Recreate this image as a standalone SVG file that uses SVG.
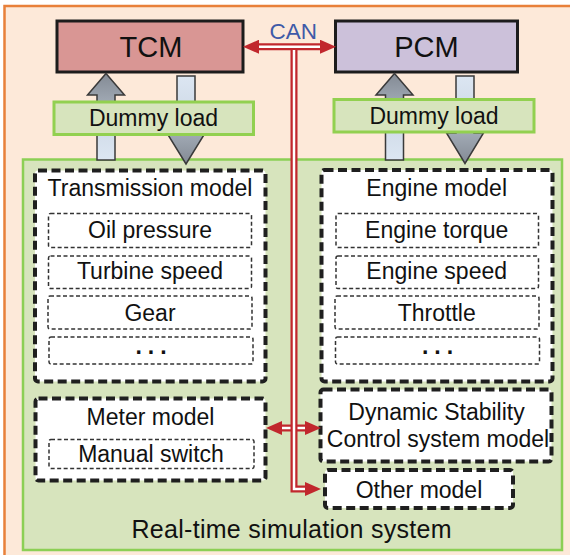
<svg xmlns="http://www.w3.org/2000/svg" width="570" height="555" viewBox="0 0 570 555">
<defs>
<style>
text{font-family:"Liberation Sans",Arial,sans-serif;font-size:23px;fill:#111;text-anchor:middle}
text.big{font-size:29px}
text.can{font-size:22.5px;fill:#3f5aa8}
text.sys{font-size:25px}
.ecu{stroke:#1c1c1c;stroke-width:3}
.dummy{fill:#d7e4bd;stroke:#92d050;stroke-width:3}
.model{fill:#fff;stroke:#1f1f1f;stroke-width:4;stroke-dasharray:9 4.5}
.sub{fill:#fff;stroke:#333;stroke-width:1.5;stroke-dasharray:4 2.5}
.bus{fill:none;stroke:#c1272d;stroke-width:7}
.busin{fill:none;stroke:#fff;stroke-width:2.5}
.arr{stroke:#3a3a3a;stroke-width:1.5}
text.dots{font-weight:bold;letter-spacing:6px}
</style>
<linearGradient id="gUp" x1="0" y1="1" x2="0" y2="0">
<stop offset="0" stop-color="#dce6f2"/>
<stop offset="0.4" stop-color="#d0dbe8"/>
<stop offset="0.6" stop-color="#a6afba"/>
<stop offset="1" stop-color="#838a94"/>
</linearGradient>
<linearGradient id="gDown" x1="0" y1="0" x2="0" y2="1">
<stop offset="0" stop-color="#dce6f2"/>
<stop offset="0.4" stop-color="#d0dbe8"/>
<stop offset="0.6" stop-color="#a6afba"/>
<stop offset="1" stop-color="#838a94"/>
</linearGradient>
<marker id="ah" markerUnits="userSpaceOnUse" markerWidth="16" markerHeight="14" refX="0" refY="7" orient="auto-start-reverse">
<path d="M0,0 L16,7 L0,14 z" fill="#c1272d"/>
</marker>
</defs>

<rect x="4.5" y="6" width="590" height="570" fill="#fde9d9" stroke="#e8803a" stroke-width="2.5"/>

<g id="system">
<rect x="23" y="159.5" width="539" height="390.5" fill="#d7e4bd" stroke="#8ccf55" stroke-width="2.5"/>
<text class="sys" x="291.5" y="538.3" textLength="320" lengthAdjust="spacing">Real-time simulation system</text>
</g>

<g id="tcm">
<rect class="ecu" x="57" y="21" width="186" height="51" fill="#d99694"/>
<text class="big" x="151" y="56.7">TCM</text>
</g>
<g id="pcm">
<rect class="ecu" x="335.5" y="21" width="182" height="51" fill="#ccc1da"/>
<text class="big" x="426.5" y="56.7">PCM</text>
</g>

<g id="io-arrows">
<path class="arr" fill="url(#gUp)" d="M106,73.5 L124.5,95 L115,95 L115,160 L97,160 L97,95 L87.5,95 Z"/>
<path class="arr" fill="url(#gDown)" d="M177,76 L195,76 L195,134 L204.5,134 L186,164 L167.5,134 L177,134 Z"/>
<path class="arr" fill="url(#gUp)" d="M394.5,73.5 L413,95 L403.5,95 L403.5,160 L385.5,160 L385.5,95 L376,95 Z"/>
<path class="arr" fill="url(#gDown)" d="M456,76 L474,76 L474,133 L483.5,133 L465,163.5 L446.5,133 L456,133 Z"/>
</g>

<g id="dummy-left">
<rect class="dummy" x="54" y="102" width="199.5" height="32.5"/>
<text x="153.5" y="126">Dummy load</text>
</g>
<g id="dummy-right">
<rect class="dummy" x="334" y="99.5" width="200" height="32.5"/>
<text x="434" y="123.5">Dummy load</text>
</g>

<g id="transmission-model">
<rect class="model" x="35" y="170.5" width="230.5" height="211" rx="3"/>
<text x="150" y="196">Transmission model</text>
<rect class="sub" x="48.5" y="213.5" width="203" height="34" rx="2"/>
<text x="150" y="238">Oil pressure</text>
<rect class="sub" x="48.5" y="256" width="203" height="32.5" rx="2"/>
<text x="150" y="279.3">Turbine speed</text>
<rect class="sub" x="48" y="296" width="204" height="33" rx="2"/>
<text x="150" y="320.7">Gear</text>
<rect class="sub" x="49" y="337" width="204" height="27" rx="2"/>
<text class="dots" x="154" y="354">...</text>
</g>

<g id="engine-model">
<rect class="model" x="321.5" y="170" width="231" height="211.5" rx="3"/>
<text x="436.7" y="196">Engine model</text>
<rect class="sub" x="336" y="213.5" width="202.5" height="34" rx="2"/>
<text x="436.7" y="238">Engine torque</text>
<rect class="sub" x="336" y="256" width="202.5" height="32.5" rx="2"/>
<text x="436.7" y="279.3">Engine speed</text>
<rect class="sub" x="335" y="296" width="204" height="33" rx="2"/>
<text x="436.7" y="320.7">Throttle</text>
<rect class="sub" x="335.5" y="337" width="204" height="27" rx="2"/>
<text class="dots" x="440.5" y="354">...</text>
</g>

<g id="meter-model">
<rect class="model" x="35.5" y="398.5" width="230" height="82" rx="3"/>
<text x="150.5" y="425">Meter model</text>
<rect class="sub" x="49" y="439.5" width="205" height="29" rx="2"/>
<text x="151" y="461.7">Manual switch</text>
</g>

<g id="dsc-model">
<rect class="model" x="320.5" y="389.5" width="231" height="72" rx="3"/>
<text x="436.5" y="420">Dynamic Stability</text>
<text x="438" y="446.7">Control system model</text>
</g>

<g id="other-model">
<rect class="model" x="325" y="470" width="188" height="38" rx="3"/>
<text x="419" y="498.3">Other model</text>
</g>

<g id="connectors">
<text class="can" x="293.3" y="39">CAN</text>
<path class="bus" d="M259,46.7 H320" marker-start="url(#ah)" marker-end="url(#ah)"/>
<path class="busin" d="M259,46.7 H320"/>
<path class="bus" d="M282,428 H305" marker-start="url(#ah)" marker-end="url(#ah)"/>
<path class="busin" d="M282,428 H305"/>
<path class="bus" d="M294,50 V489 H305" marker-end="url(#ah)" stroke-linejoin="miter"/>
<path class="busin" d="M294,50 V489 H305" stroke-linejoin="miter"/>
</g>
</svg>
